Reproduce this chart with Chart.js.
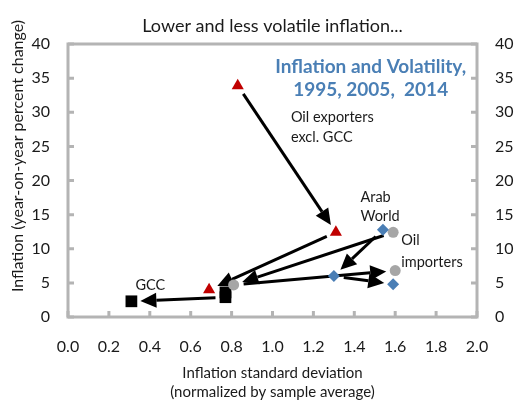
<!DOCTYPE html>
<html>
<head>
<meta charset="utf-8">
<script src="https://cdn.jsdelivr.net/npm/chart.js@4.4.1/dist/chart.umd.min.js"></script>
<style>
  html, body { margin: 0; padding: 0; background: #fff; }
  #wrap { width: 518px; height: 400px; }
</style>
</head>
<body>
<div id="wrap"><canvas id="chart"></canvas></div>
<script>
// years for each point of a group: 1995, 2005, 2014
const years = ['1995', '2005', '2014'];

const oilExpX = [0.83, 1.31, 0.69];   // Oil exporters excl. GCC
const oilExpY = [33.9, 12.4, 4.0];
const arabX = [1.54, 1.30, 1.59];     // Arab World
const arabY = [12.8, 6.0, 4.8];
const oilImpX = [1.59, 0.81, 1.60];   // Oil importers
const oilImpY = [12.4, 4.7, 6.8];
const gccX = [0.77, 0.77, 0.31];      // GCC
const gccY = [3.6, 2.9, 2.3];

const xTicks = [0, 0.2, 0.4, 0.6, 0.8, 1.0, 1.2, 1.4, 1.6, 1.8, 2.0];
const yTicks = [0, 5, 10, 15, 20, 25, 30, 35, 40];

const FONT = 'Lato, "Open Sans", sans-serif';
const frameColor = '#b4b4b4';

const pts = (xs, ys) => xs.map((x, i) => ({ x: x, y: ys[i], year: years[i] }));

// frame round the plot with inward ticks, drawn under the points
const framePlugin = {
  id: 'frame',
  beforeDatasetsDraw(chart) {
    const { ctx, chartArea: a, scales } = chart;
    ctx.save();
    ctx.strokeStyle = frameColor;
    ctx.lineWidth = 3;
    ctx.strokeRect(a.left, a.top, a.right - a.left, a.bottom - a.top);
    ctx.beginPath();
    xTicks.forEach(v => {
      const px = scales.x.getPixelForValue(v);
      ctx.moveTo(px, a.bottom); ctx.lineTo(px, a.bottom - 6);
    });
    yTicks.forEach(v => {
      const py = scales.y.getPixelForValue(v);
      ctx.moveTo(a.left, py); ctx.lineTo(a.left + 6, py);
      ctx.moveTo(a.right, py); ctx.lineTo(a.right - 6, py);
    });
    ctx.stroke();
    ctx.restore();
  }
};

function drawArrow(ctx, x1, y1, x2, y2) {
  const dx = x2 - x1, dy = y2 - y1;
  const len = Math.hypot(dx, dy);
  if (len < 20) return; // too short to show
  const ux = dx / len, uy = dy / len;
  const sx = x1 + ux * 10, sy = y1 + uy * 10;
  const tx = x2 - ux * 9, ty = y2 - uy * 9;
  const hl = 16, hw = 7.5;
  const bx = tx - ux * hl, by = ty - uy * hl;
  ctx.beginPath();
  ctx.moveTo(sx, sy);
  ctx.lineTo(bx, by);
  ctx.stroke();
  ctx.beginPath();
  ctx.moveTo(tx, ty);
  ctx.lineTo(bx - uy * hw, by + ux * hw);
  ctx.lineTo(bx + uy * hw, by - ux * hw);
  ctx.closePath();
  ctx.fill();
}

// arrows from each year to the next one, per group
const arrowPlugin = {
  id: 'arrows',
  beforeDatasetsDraw(chart) {
    const { ctx, scales } = chart;
    ctx.save();
    ctx.strokeStyle = '#000';
    ctx.fillStyle = '#000';
    ctx.lineWidth = 3;
    chart.data.datasets.forEach(ds => {
      for (let i = 0; i + 1 < ds.data.length; i++) {
        const p = ds.data[i], q = ds.data[i + 1];
        drawArrow(ctx,
          scales.x.getPixelForValue(p.x), scales.y.getPixelForValue(p.y),
          scales.x.getPixelForValue(q.x), scales.y.getPixelForValue(q.y));
      }
    });
    ctx.restore();
  }
};

// text notes inside the plot and the rotated y title
const notesPlugin = {
  id: 'notes',
  afterDraw(chart) {
    const { ctx, scales } = chart;
    const X = v => scales.x.getPixelForValue(v);
    const Y = v => scales.y.getPixelForValue(v);
    ctx.save();
    ctx.textBaseline = 'middle';
    ctx.fillStyle = '#1a1a1a';
    ctx.font = '14.5px ' + FONT;
    ctx.textAlign = 'left';
    [['Oil exporters', 1.09, 29.2], ['excl. GCC', 1.09, 26.3],
     ['Arab', 1.43, 17.6], ['World', 1.43, 14.7],
     ['Oil', 1.63, 11.2], ['importers', 1.63, 8.0],
     ['GCC', 0.33, 4.7]].forEach(n => ctx.fillText(n[0], X(n[1]), Y(n[2])));

    ctx.fillStyle = '#4a7fb5';
    ctx.font = 'bold 19px ' + FONT;
    ctx.textAlign = 'center';
    ctx.fillText('Inflation and Volatility,', X(1.48), Y(36.7));
    ctx.fillText('1995, 2005,  2014', X(1.48), Y(33.3));

    ctx.fillStyle = '#1a1a1a';
    ctx.font = '16px ' + FONT;
    ctx.translate(18, 156);
    ctx.rotate(-Math.PI / 2);
    ctx.fillText('Inflation (year-on-year percent change)', 0, 0);
    ctx.restore();
  }
};

const tickFont = { family: FONT, size: 16 };

new Chart(document.getElementById('chart'), {
  type: 'scatter',
  data: {
    datasets: [
      { label: 'Oil exporters excl. GCC', data: pts(oilExpX, oilExpY),
        pointStyle: 'triangle', pointRadius: 7, backgroundColor: '#c00000', borderWidth: 0 },
      { label: 'Arab World', data: pts(arabX, arabY),
        pointStyle: 'rectRot', pointRadius: 6, backgroundColor: '#4a7eb5', borderWidth: 0 },
      { label: 'Oil importers', data: pts(oilImpX, oilImpY),
        pointStyle: 'circle', pointRadius: 5.5, backgroundColor: '#a6a6a6', borderWidth: 0 },
      { label: 'GCC', data: pts(gccX, gccY),
        pointStyle: 'rect', pointRadius: 8.3, backgroundColor: '#000', borderWidth: 0 }
    ]
  },
  options: {
    responsive: true,
    maintainAspectRatio: false,
    animation: false,
    layout: { padding: 0 },
    plugins: {
      legend: { display: false },
      tooltip: { enabled: false },
      title: {
        display: true,
        fullSize: false,
        text: 'Lower and less volatile inflation...',
        color: '#1a1a1a',
        font: { family: FONT, size: 18, weight: 'normal' },
        padding: { top: 15, bottom: 7.4 }
      }
    },
    scales: {
      x: {
        type: 'linear', min: 0, max: 2,
        afterBuildTicks: s => { s.ticks = xTicks.map(v => ({ value: v })); },
        afterFit: s => { s.height = 83; },
        grid: { display: false, drawTicks: false },
        border: { display: false },
        ticks: { font: tickFont, color: '#1a1a1a', padding: 20,
          maxRotation: 0, callback: v => v.toFixed(1) },
        title: { display: true, color: '#1a1a1a',
          text: ['Inflation standard deviation', '(normalized by sample average)'],
          font: { family: FONT, size: 15, lineHeight: 1.3 }, padding: { top: 0, bottom: -2 } }
      },
      y: {
        type: 'linear', position: 'left', min: 0, max: 40,
        afterBuildTicks: s => { s.ticks = yTicks.map(v => ({ value: v })); },
        afterFit: s => { s.width = 68; },
        grid: { display: false, drawTicks: false },
        border: { display: false },
        ticks: { font: tickFont, color: '#1a1a1a', padding: 18 }
      },
      y2: {
        type: 'linear', position: 'right', min: 0, max: 40,
        afterBuildTicks: s => { s.ticks = yTicks.map(v => ({ value: v })); },
        afterFit: s => { s.width = 41; },
        grid: { display: false, drawTicks: false },
        border: { display: false },
        ticks: { font: tickFont, color: '#1a1a1a', padding: 18 }
      }
    }
  },
  plugins: [framePlugin, arrowPlugin, notesPlugin]
});
</script>
</body>
</html>
